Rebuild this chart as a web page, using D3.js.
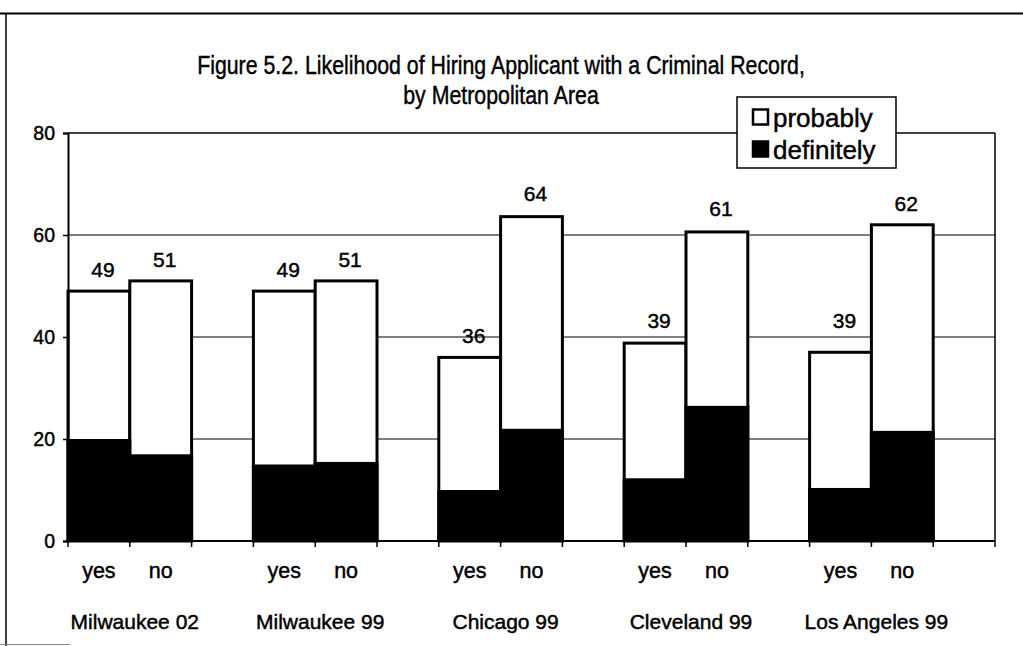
<!DOCTYPE html>
<html>
<head>
<meta charset="utf-8">
<script src="https://cdn.jsdelivr.net/npm/d3@7/dist/d3.min.js"></script>
<style>
  html, body { margin: 0; padding: 0; background: #fff; }
  svg { display: block; }
  text { font-family: Arial, "Liberation Sans", sans-serif; fill: #000; stroke: #000; stroke-width: 0.45px; }
</style>
</head>
<body>
<svg id="chart" width="1023" height="646"></svg>
<script>
// ---- data ----
const cities = ["Milwaukee 02", "Milwaukee 99", "Chicago 99", "Cleveland 99", "Los Angeles 99"];
const answers = ["yes", "no"];
const definitely = [20, 17, 15, 15.5, 10, 22, 12.3, 26.5, 10.4, 21.6];
const totals = [49, 51, 49, 51, 36, 63.6, 38.8, 60.6, 37, 62];
const totalLabels = ["49", "51", "49", "51", "36", "64", "39", "61", "39", "62"];
const yTicks = [0, 20, 40, 60, 80];
const seriesNames = ["probably", "definitely"];
const titleLines = ["Figure 5.2.  Likelihood of Hiring Applicant with a Criminal Record,", "by Metropolitan Area"];

(function () {
// ---- layout ----
const svg = d3.select("#chart");
const pLeft = 68, pRight = 995, pTop = 133, pBottom = 541;

// slots: each city -> yes, no, gap
const slots = [];
cities.forEach((c, ci) => {
  answers.forEach((a, ai) => slots.push({key: c + "|" + a, city: c, answer: a, idx: ci * 2 + ai}));
  slots.push({key: c + "|gap", city: c, answer: null});
});

const x = d3.scaleBand().domain(slots.map(s => s.key)).range([pLeft, pRight]).padding(0);
const y = d3.scaleLinear().domain([0, 80]).range([pBottom, pTop]);

// outer frame
svg.append("line").attr("x1", 0).attr("x2", 1023).attr("y1", 13.5).attr("y2", 13.5)
  .attr("stroke", "#000").attr("stroke-width", 2);
svg.append("line").attr("x1", 6).attr("x2", 6).attr("y1", 13).attr("y2", 646)
  .attr("stroke", "#000").attr("stroke-width", 1.5);
svg.append("line").attr("x1", 0).attr("x2", 70).attr("y1", 644.5).attr("y2", 644.5)
  .attr("stroke", "#888").attr("stroke-width", 1);

// title (condensed look via horizontal scale)
titleLines.forEach((t, i) => {
  svg.append("text").attr("transform", `translate(501,${74 + i * 30}) scale(0.82,1)`)
    .attr("text-anchor", "middle").style("font-size", "26px").text(t);
});

// gridlines
svg.append("g").selectAll("line").data(yTicks.filter(t => t > 0 && t < 80)).join("line")
  .attr("x1", pLeft).attr("x2", pRight).attr("y1", d => y(d)).attr("y2", d => y(d))
  .attr("stroke", "#000").attr("stroke-width", 1);

// plot border top & right
svg.append("line").attr("x1", pLeft).attr("x2", pRight).attr("y1", y(80)).attr("y2", y(80))
  .attr("stroke", "#000").attr("stroke-width", 1.5);
svg.append("line").attr("x1", pRight).attr("x2", pRight).attr("y1", y(80)).attr("y2", y(0))
  .attr("stroke", "#000").attr("stroke-width", 1.5);

// bars
const barData = slots.filter(s => s.answer !== null);
const bars = svg.append("g");
bars.selectAll("rect.prob").data(barData).join("rect").attr("class", "prob")
  .attr("x", d => x(d.key)).attr("width", x.bandwidth())
  .attr("y", d => y(totals[d.idx])).attr("height", d => y(0) - y(totals[d.idx]))
  .attr("fill", "#fff").attr("stroke", "#000").attr("stroke-width", 3);
bars.selectAll("rect.def").data(barData).join("rect").attr("class", "def")
  .attr("x", d => x(d.key) - 1.5).attr("width", x.bandwidth() + 3)
  .attr("y", d => y(definitely[d.idx])).attr("height", d => y(0) - y(definitely[d.idx]))
  .attr("fill", "#000");

// value labels
svg.append("g").selectAll("text").data(barData).join("text")
  .attr("x", d => x(d.key) + x.bandwidth() / 2 + 4)
  .attr("y", d => y(+totalLabels[d.idx]) - 14)
  .attr("text-anchor", "middle").style("font-size", "21px")
  .text(d => totalLabels[d.idx]);

// y axis
const yAxis = d3.axisLeft(y).tickValues(yTicks).tickSize(5).tickPadding(8);
const gy = svg.append("g").attr("transform", `translate(${pLeft},0)`).call(yAxis);
gy.select(".domain").attr("stroke-width", 2);
gy.selectAll(".tick line").attr("stroke-width", 1.5);
gy.selectAll("text").style("font-size", "19.5px").style("font-family", "Arial, 'Liberation Sans', sans-serif");

// x axis: ticks at slot boundaries
const bounds = slots.map(s => x(s.key)).concat([pRight]);
const gx = svg.append("g");
gx.append("line").attr("x1", pLeft).attr("x2", pRight).attr("y1", pBottom).attr("y2", pBottom)
  .attr("stroke", "#000").attr("stroke-width", 2);
gx.selectAll("line.tk").data(bounds).join("line").attr("class", "tk")
  .attr("x1", d => d).attr("x2", d => d).attr("y1", pBottom).attr("y2", pBottom + 6)
  .attr("stroke", "#000").attr("stroke-width", 1.5);
gx.selectAll("text.ans").data(barData).join("text").attr("class", "ans")
  .attr("x", d => x(d.key) + x.bandwidth() / 2).attr("y", 578)
  .attr("text-anchor", "middle").style("font-size", "21.5px").text(d => d.answer);
gx.selectAll("text.city").data(cities).join("text").attr("class", "city")
  .attr("x", c => x(c + "|yes") + x.bandwidth() + 5)
  .attr("y", 629).attr("text-anchor", "middle").style("font-size", "21px").text(c => c);

// legend
const lg = svg.append("g").attr("transform", "translate(737,97)");
lg.append("rect").attr("width", 159).attr("height", 71).attr("fill", "#fff").attr("stroke", "#000").attr("stroke-width", 1.5);
seriesNames.forEach((n, i) => {
  lg.append("rect").attr("x", 16).attr("y", 12.5 + i * 32).attr("width", 15).attr("height", 15)
    .attr("fill", i === 0 ? "#fff" : "#000").attr("stroke", "#000").attr("stroke-width", 2.5);
  lg.append("text").attr("x", 36).attr("y", 30 + i * 32).style("font-size", "26px").text(n);
});
})();
</script>
</body>
</html>
